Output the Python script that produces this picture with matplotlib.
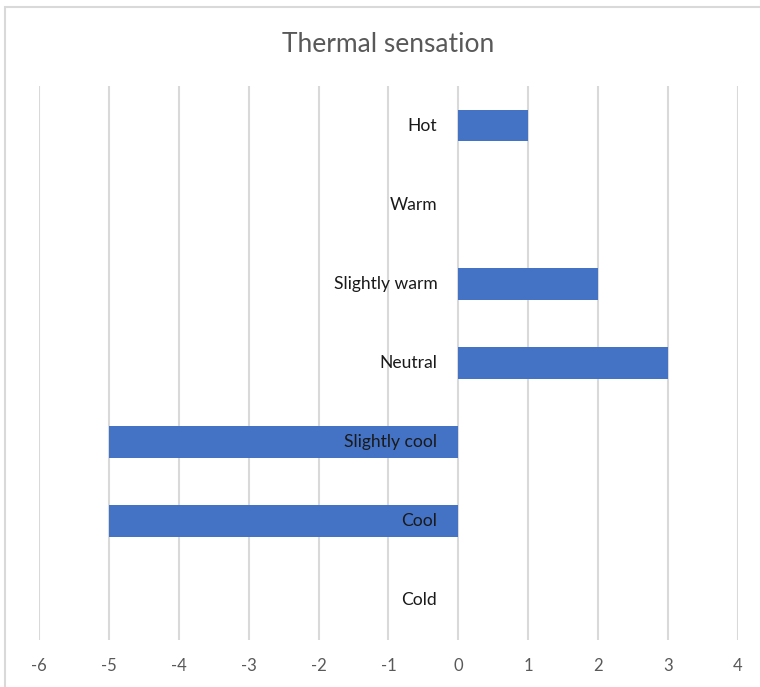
import matplotlib.pyplot as plt
from matplotlib.transforms import blended_transform_factory, offset_copy
from matplotlib.patches import Rectangle

categories = ["Hot", "Warm", "Slightly warm", "Neutral", "Slightly cool", "Cool", "Cold"]
values = [1, 0, 2, 3, -5, -5, 0]
x_ticks = [-6, -5, -4, -3, -2, -1, 0, 1, 2, 3, 4]

plt.rcParams['font.family'] = ['Lato', 'DejaVu Sans']

fig = plt.figure(figsize=(7.6, 6.87), dpi=100)
ax = fig.add_axes([0.0513, 0.0684, 0.9197, 0.8064])

# chart border (light gray frame)
fig.patches.append(Rectangle((5 / 760, -0.1), 1.2, (687 - 7) / 687 + 0.1,
                             transform=fig.transFigure, fill=False,
                             edgecolor='#d9d9d9', linewidth=1.5, zorder=0))

y = list(range(len(categories)))
ax.barh(y, values, height=0.4, color='#4472C4', zorder=2)

ax.set_xlim(x_ticks[0], x_ticks[-1])
ax.set_ylim(len(categories) - 0.5, -0.5)
ax.set_xticks(x_ticks)
ax.set_xticklabels([str(t) for t in x_ticks])
ax.set_yticks([])
ax.tick_params(axis='x', length=0, pad=13, labelsize=12, labelcolor='#595959')
for s in ax.spines.values():
    s.set_visible(False)
ax.grid(axis='x', color='#d9d9d9', linewidth=1.5, zorder=0)
ax.set_axisbelow(True)

# category labels beside the zero line
trans = offset_copy(blended_transform_factory(ax.transData, ax.transData),
                    fig=fig, x=-21, y=0, units='dots')
for yi, cat in zip(y, categories):
    ax.text(0, yi, cat, transform=trans, ha='right', va='center',
            fontsize=12.6, color='#1a1a1a', zorder=3)

fig.text(388 / 760, 1 - 45 / 687, "Thermal sensation", ha='center', va='center',
         fontsize=19, color='#595959')

fig.savefig('out.png', dpi=100)
